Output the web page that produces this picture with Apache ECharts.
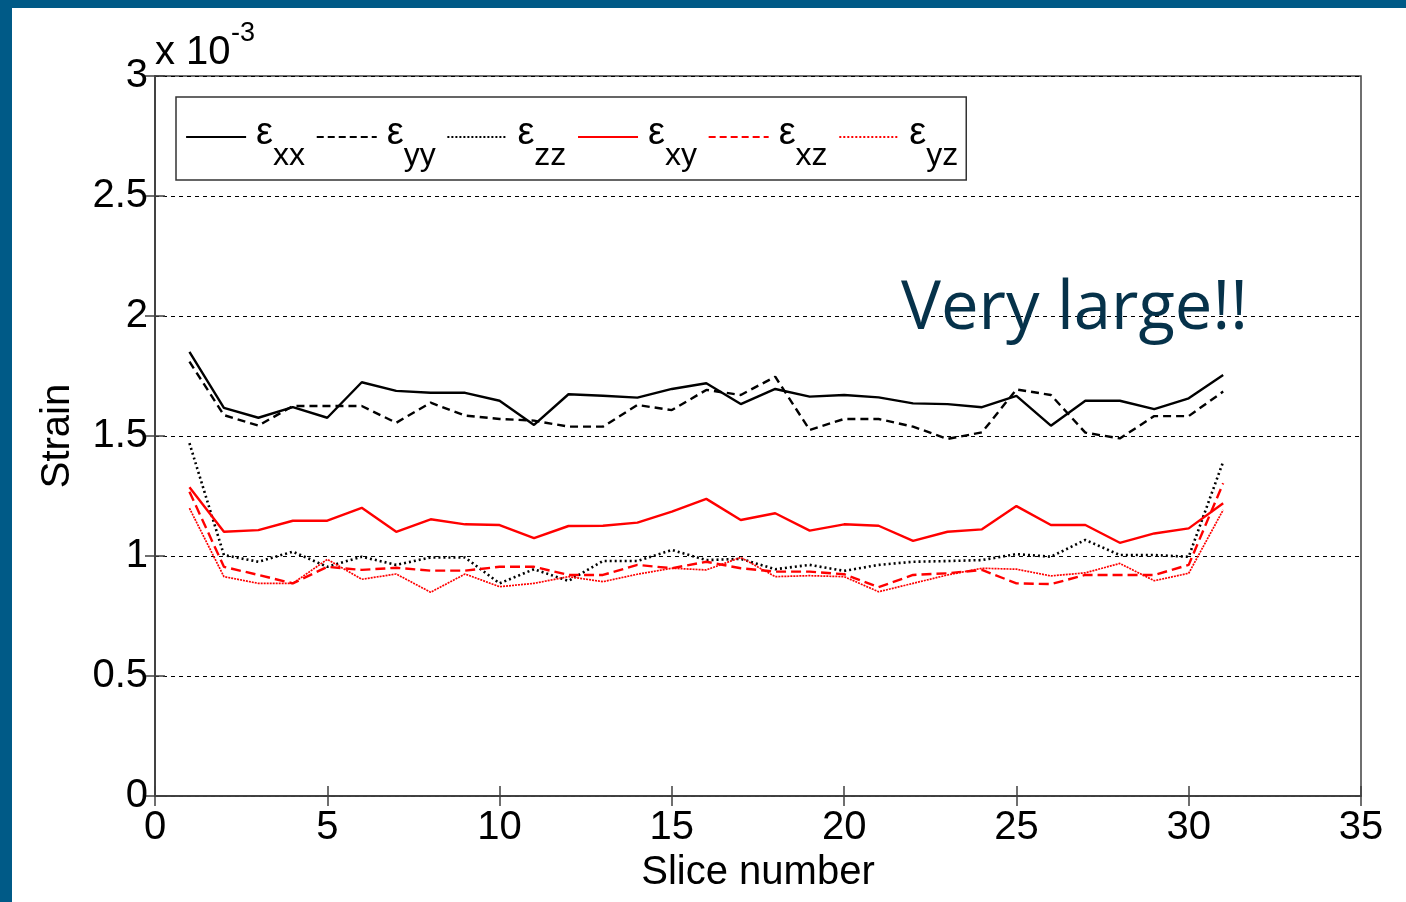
<!DOCTYPE html>
<html>
<head>
<meta charset="utf-8">
<script src="https://cdn.jsdelivr.net/npm/echarts@6/dist/echarts.min.js"></script>
<style>
  html, body { margin: 0; padding: 0; background: #ffffff; }
  #chart { width: 1406px; height: 902px; }
</style>
</head>
<body>
<div id="chart"></div>
<script>
// Strain components per slice, in units of 1e-3
const slices = [1, 2, 3, 4, 5, 6, 7, 8, 9, 10, 11, 12, 13, 14, 15, 16, 17, 18, 19, 20, 21, 22, 23, 24, 25, 26, 27, 28, 29, 30, 31];

const exx = [1.851, 1.617, 1.576, 1.620, 1.576, 1.724, 1.688, 1.680, 1.680, 1.647, 1.546, 1.674, 1.668, 1.660, 1.696, 1.720, 1.633, 1.696, 1.664, 1.671, 1.661, 1.636, 1.633, 1.620, 1.667, 1.543, 1.647, 1.647, 1.612, 1.657, 1.754];
const eyy = [1.810, 1.587, 1.543, 1.625, 1.625, 1.625, 1.555, 1.639, 1.585, 1.571, 1.564, 1.539, 1.539, 1.629, 1.608, 1.692, 1.671, 1.747, 1.525, 1.571, 1.571, 1.539, 1.488, 1.515, 1.694, 1.671, 1.514, 1.490, 1.583, 1.583, 1.685];
const ezz = [1.470, 1.004, 0.976, 1.018, 0.955, 0.997, 0.963, 0.994, 0.994, 0.886, 0.945, 0.896, 0.979, 0.979, 1.025, 0.983, 0.988, 0.945, 0.963, 0.938, 0.963, 0.976, 0.979, 0.983, 1.008, 0.997, 1.067, 1.004, 1.004, 0.997, 1.393];
const exy = [1.286, 1.101, 1.108, 1.147, 1.147, 1.201, 1.101, 1.153, 1.132, 1.129, 1.074, 1.125, 1.126, 1.139, 1.185, 1.238, 1.150, 1.178, 1.106, 1.132, 1.126, 1.063, 1.101, 1.111, 1.208, 1.129, 1.129, 1.055, 1.094, 1.115, 1.220];
const exz = [1.268, 0.955, 0.921, 0.886, 0.955, 0.942, 0.951, 0.939, 0.939, 0.955, 0.955, 0.921, 0.921, 0.963, 0.949, 0.976, 0.949, 0.935, 0.935, 0.924, 0.870, 0.921, 0.928, 0.942, 0.886, 0.883, 0.921, 0.921, 0.921, 0.963, 1.303];
const eyz = [1.199, 0.914, 0.886, 0.886, 0.986, 0.903, 0.925, 0.849, 0.925, 0.872, 0.886, 0.914, 0.893, 0.924, 0.949, 0.942, 0.994, 0.914, 0.918, 0.914, 0.851, 0.886, 0.921, 0.949, 0.945, 0.917, 0.930, 0.969, 0.897, 0.928, 1.192];

const xTicks = [0, 5, 10, 15, 20, 25, 30, 35];
const yTicks = [0, 0.5, 1, 1.5, 2, 2.5, 3];

const components = ['xx', 'yy', 'zz', 'xy', 'xz', 'yz'];
const values = [exx, eyy, ezz, exy, exz, eyz];
const colors = ['#000000', '#000000', '#000000', '#ff0000', '#ff0000', '#ff0000'];
const dashes = ['solid', [8, 5], [2, 3], 'solid', [10, 5], [2, 1]];
const widths = [2.4, 2.4, 2.6, 2.4, 2.4, 1.7];
const legendDashes = ['solid', [7, 4], [2, 2], 'solid', [7, 4], [2, 2]];

const FONT = '"Liberation Sans", Arial, Helvetica, sans-serif';
const AXIS = '#404040';

const chart = echarts.init(document.getElementById('chart'), null, { renderer: 'canvas' });

const series = components.map((c, i) => ({
  name: c,
  type: 'line',
  data: slices.map((s, k) => [s, values[i][k]]),
  symbol: 'none',
  smooth: false,
  lineStyle: { color: colors[i], width: widths[i], type: dashes[i] },
  itemStyle: { color: colors[i] },
  z: 3
}));

const option = {
  animation: false,
  backgroundColor: '#ffffff',
  grid: {
    left: 155, top: 76, width: 1206, height: 720,
    show: true, borderColor: AXIS, borderWidth: 1.5, backgroundColor: 'transparent'
  },
  legend: {
    left: 176, top: 97,
    orient: 'horizontal',
    padding: [18, 8, 8, 9],
    itemGap: 10.6,
    itemWidth: 60,
    itemHeight: 2,
    borderColor: '#333333',
    borderWidth: 1.5,
    backgroundColor: '#ffffff',
    selectedMode: false,
    data: components.map((c, i) => ({
      name: c,
      itemStyle: { opacity: 0 },
      lineStyle: { color: colors[i], width: 2.2, type: legendDashes[i] }
    })),
    formatter: name => '{e|ε}{s|' + name + '}',
    textStyle: {
      fontFamily: FONT,
      color: '#000000',
      rich: {
        e: { fontSize: 38, fontFamily: FONT, lineHeight: 44, verticalAlign: 'top', padding: [0, 0, 0, 5], color: '#000' },
        s: { fontSize: 32, fontFamily: FONT, lineHeight: 30, verticalAlign: 'top', padding: [25, 0, 0, 0], color: '#000' }
      }
    }
  },
  xAxis: [
    {
      type: 'value', min: 0, max: 35, interval: 5,
      name: 'Slice number', nameLocation: 'middle', nameGap: 51,
      nameTextStyle: { fontFamily: FONT, fontSize: 40, color: '#000' },
      axisLine: { show: true, lineStyle: { color: AXIS, width: 1.5 } },
      axisTick: { show: true, inside: true, length: 10, lineStyle: { color: AXIS, width: 1.5 } },
      axisLabel: { fontFamily: FONT, fontSize: 40, color: '#000', margin: 12,
                   formatter: v => xTicks.includes(v) ? String(v) : '' },
      splitLine: { show: false }
    },
    {
      type: 'value', min: 0, max: 35, interval: 5, position: 'top',
      axisLine: { show: true, lineStyle: { color: AXIS, width: 1.5 } },
      axisTick: { show: true, inside: true, length: 10, lineStyle: { color: AXIS, width: 1.5 } },
      axisLabel: { show: false },
      splitLine: { show: false }
    }
  ],
  yAxis: [
    {
      type: 'value', min: 0, max: 3, interval: 0.5,
      name: 'Strain', nameLocation: 'middle', nameGap: 77,
      nameTextStyle: { fontFamily: FONT, fontSize: 40, color: '#000' },
      axisLine: { show: true, lineStyle: { color: AXIS, width: 1.5 } },
      axisTick: { show: true, inside: true, length: 10, lineStyle: { color: AXIS, width: 1.5 } },
      axisLabel: { fontFamily: FONT, fontSize: 40, color: '#000', margin: 7,
                   formatter: v => yTicks.includes(v) ? String(v) : '' },
      splitLine: { show: true, lineStyle: { color: '#000000', width: 1, type: [4, 4] } }
    },
    {
      type: 'value', min: 0, max: 3, interval: 0.5, position: 'right',
      axisLine: { show: true, lineStyle: { color: AXIS, width: 1.5 } },
      axisTick: { show: true, inside: true, length: 10, lineStyle: { color: AXIS, width: 1.5 } },
      axisLabel: { show: false },
      splitLine: { show: false }
    }
  ],
  graphic: [
    // slide frame
    { type: 'rect', left: 0, top: 0, shape: { width: 1406, height: 8 }, style: { fill: '#005a87' }, z: 10 },
    { type: 'rect', left: 0, top: 0, shape: { width: 12, height: 902 }, style: { fill: '#005a87' }, z: 10 },
    // exponent of the y axis
    { type: 'text', left: 155, top: 33, style: { text: 'x 10', font: '40px ' + FONT, fill: '#000' }, z: 10 },
    { type: 'text', left: 231, top: 20, style: { text: '-3', font: '27px ' + FONT, fill: '#000' }, z: 10 },
    // annotation
    { type: 'text', left: 901, top: 276, style: { text: 'Very large!!', font: '67px "Open Sans", sans-serif', fill: '#06324a' }, z: 10 }
  ],
  series: series
};

chart.setOption(option);
</script>
</body>
</html>
